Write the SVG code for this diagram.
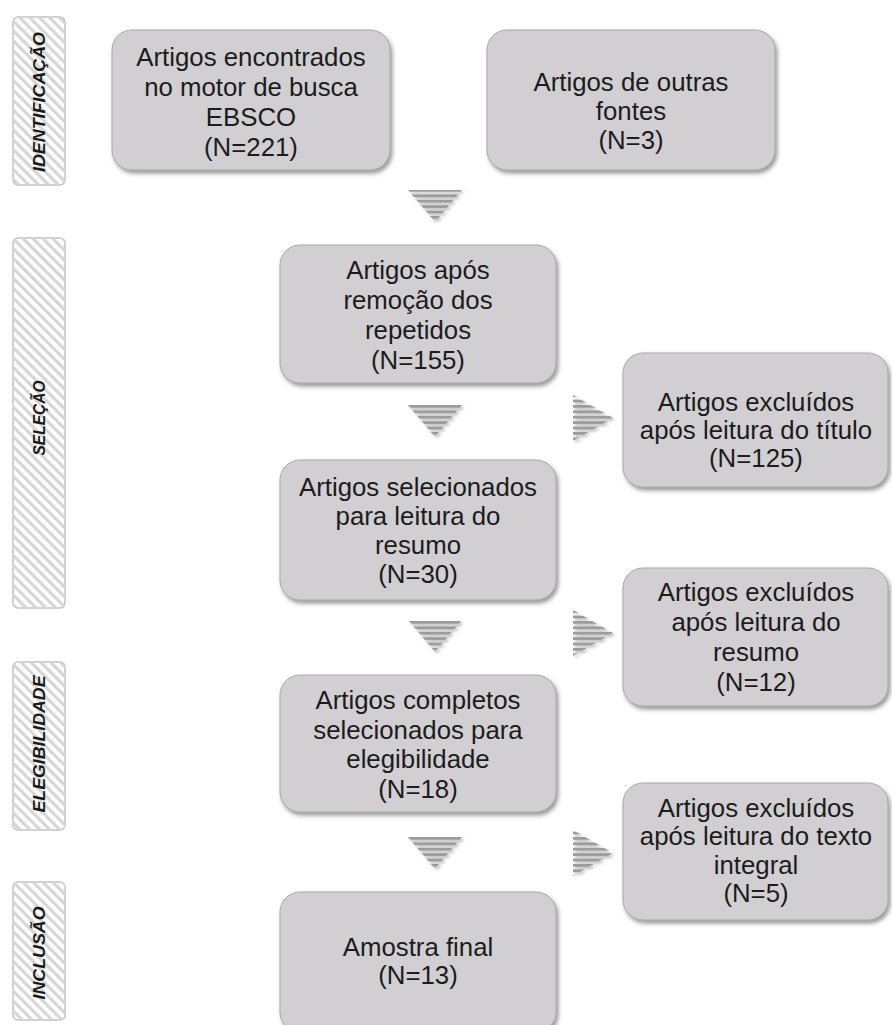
<svg xmlns="http://www.w3.org/2000/svg" width="892" height="1025" viewBox="0 0 892 1025">
<defs>
<pattern id="diag" patternUnits="userSpaceOnUse" width="7" height="7" patternTransform="rotate(-45)">
<rect x="0" y="0" width="3.2" height="7" fill="#d6d6d6"/>
</pattern>
<pattern id="hstripe" patternUnits="userSpaceOnUse" width="10" height="5.4">
<rect x="0" y="0" width="10" height="2.8" fill="#9c9c9c"/>
</pattern>
<filter id="shadow" x="-10%" y="-10%" width="125%" height="130%">
<feDropShadow dx="2" dy="3" stdDeviation="2" flood-color="#444" flood-opacity="0.55"/>
</filter>
<filter id="tshadow" x="-20%" y="-20%" width="150%" height="150%">
<feDropShadow dx="2" dy="2" stdDeviation="1.5" flood-color="#666" flood-opacity="0.5"/>
</filter>
</defs>
<style>
.box{fill:#d1cfd2;stroke:#a9a9a9;stroke-width:1;filter:url(#shadow)}
.t{font-family:"Liberation Sans",Arial,sans-serif;font-size:25.8px;fill:#1c1c1c;text-anchor:middle}
.lab{fill:#fff;stroke:#c2c2c2;stroke-width:1.5}
.labs{fill:url(#diag)}
.lt{font-family:"Liberation Sans",Arial,sans-serif;font-size:16px;font-weight:bold;font-style:italic;fill:#1a1a1a;text-anchor:middle}
.tri{fill:url(#hstripe);filter:url(#tshadow)}
</style>

<g id="phase-identificacao">
<rect class="lab" x="13" y="17" width="52" height="168" rx="5"/>
<rect class="labs" x="13" y="17" width="52" height="168" rx="5"/>
<text class="lt" transform="translate(45,102) rotate(-90)" textLength="140" lengthAdjust="spacingAndGlyphs">IDENTIFICAÇÃO</text>
</g>
<g id="phase-selecao">
<rect class="lab" x="13" y="238" width="52" height="370" rx="5"/>
<rect class="labs" x="13" y="238" width="52" height="370" rx="5"/>
<text class="lt" transform="translate(45,418) rotate(-90)" textLength="75" lengthAdjust="spacingAndGlyphs">SELEÇÃO</text>
</g>
<g id="phase-elegibilidade">
<rect class="lab" x="13" y="662" width="52" height="168" rx="5"/>
<rect class="labs" x="13" y="662" width="52" height="168" rx="5"/>
<text class="lt" transform="translate(45,744) rotate(-90)" textLength="137" lengthAdjust="spacingAndGlyphs">ELEGIBILIDADE</text>
</g>
<g id="phase-inclusao">
<rect class="lab" x="13" y="882" width="52" height="138" rx="5"/>
<rect class="labs" x="13" y="882" width="52" height="138" rx="5"/>
<text class="lt" transform="translate(45,953) rotate(-90)" textLength="93" lengthAdjust="spacingAndGlyphs">INCLUSÃO</text>
</g>

<g id="connectors">
<polygon class="tri" points="408,190 462,190 435,222"/>
<polygon class="tri" points="408,405 462,405 435,437"/>
<polygon class="tri" points="408,620 462,620 435,652"/>
<polygon class="tri" points="408,837 462,837 435,869"/>
<polygon class="tri" points="573,395 613,418 573,441"/>
<polygon class="tri" points="573,610 613,633 573,656"/>
<polygon class="tri" points="573,830 613,853 573,876"/>
</g>

<g id="n1">
<rect class="box" x="112" y="30" width="278" height="140" rx="20"/>
<text class="t"><tspan x="251" y="66">Artigos encontrados</tspan><tspan x="251" y="96">no motor de busca</tspan><tspan x="251" y="126">EBSCO</tspan><tspan x="251" y="156">(N=221)</tspan></text>
</g>
<g id="n2">
<rect class="box" x="487" y="30" width="288" height="140" rx="20"/>
<text class="t"><tspan x="631" y="91">Artigos de outras</tspan><tspan x="631" y="120">fontes</tspan><tspan x="631" y="149">(N=3)</tspan></text>
</g>
<g id="n3">
<rect class="box" x="280" y="245" width="276" height="138" rx="20"/>
<text class="t"><tspan x="418" y="279">Artigos após</tspan><tspan x="418" y="309">remoção dos</tspan><tspan x="418" y="339">repetidos</tspan><tspan x="418" y="369">(N=155)</tspan></text>
</g>
<g id="n4">
<rect class="box" x="623" y="353" width="265" height="134" rx="20"/>
<text class="t"><tspan x="756" y="411">Artigos excluídos</tspan><tspan x="756" y="439">após leitura do título</tspan><tspan x="756" y="467">(N=125)</tspan></text>
</g>
<g id="n5">
<rect class="box" x="280" y="460" width="276" height="140" rx="20"/>
<text class="t"><tspan x="418" y="496">Artigos selecionados</tspan><tspan x="418" y="525">para leitura do</tspan><tspan x="418" y="554">resumo</tspan><tspan x="418" y="583">(N=30)</tspan></text>
</g>
<g id="n6">
<rect class="box" x="623" y="568" width="265" height="138" rx="20"/>
<text class="t"><tspan x="756" y="601">Artigos excluídos</tspan><tspan x="756" y="631">após leitura do</tspan><tspan x="756" y="661">resumo</tspan><tspan x="756" y="691">(N=12)</tspan></text>
</g>
<g id="n7">
<rect class="box" x="280" y="675" width="276" height="137" rx="20"/>
<text class="t"><tspan x="418" y="709">Artigos completos</tspan><tspan x="418" y="739">selecionados para</tspan><tspan x="418" y="768">elegibilidade</tspan><tspan x="418" y="798">(N=18)</tspan></text>
</g>
<g id="n8">
<rect class="box" x="623" y="783" width="265" height="137" rx="20"/>
<text class="t"><tspan x="756" y="817">Artigos excluídos</tspan><tspan x="756" y="845">após leitura do texto</tspan><tspan x="756" y="874">integral</tspan><tspan x="756" y="902">(N=5)</tspan></text>
</g>
<g id="n9">
<rect class="box" x="280" y="892" width="276" height="140" rx="20"/>
<text class="t"><tspan x="418" y="956">Amostra final</tspan><tspan x="418" y="984">(N=13)</tspan></text>
</g>
</svg>
